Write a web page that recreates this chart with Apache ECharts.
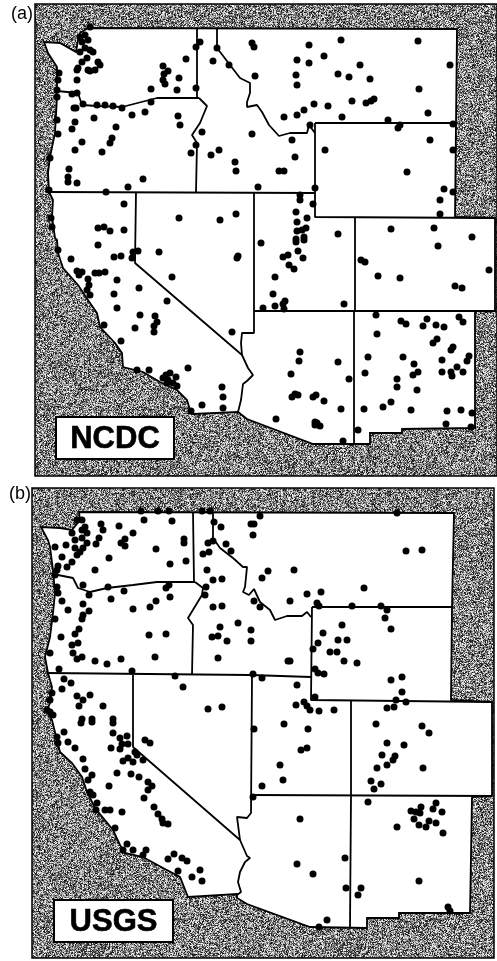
<!DOCTYPE html>
<html>
<head>
<meta charset="utf-8">
<title>Station maps</title>
<script src="https://cdn.jsdelivr.net/npm/echarts@6/dist/echarts.min.js"></script>
<style>
html, body { margin: 0; background: #fff; }
#chart { width: 497px; height: 961px; }
</style>
</head>
<body>
<div id="chart"></div>
<script>
var panelNames = ["(a)", "(b)"];
var networkNames = ["NCDC", "USGS"];

var stationsA = [
  [90,27],[80,37],[85,35],[82,42],[88,40],[85,48],[90,50],[80,52],[87,58],[93,52],[82,62],[78,68],[88,70],[98,62],[100,65],[95,70],[90,71],[77,70],
  [59,73],[58,80],[57,90],[57,97],[72,94],[77,93],[77,80],[83,104],[97,105],[105,105],[113,106],[122,108],[151,89],[151,102],
  [74,108],[76,108],[94,118],[132,115],[145,112],[178,116],[180,125],[75,122],[72,129],[116,127],[58,134],[57,120],
  [112,138],[110,143],[82,142],[75,150],[102,152],[50,158],[69,169],[68,177],[68,182],[77,183],[128,187],[143,179],
  [49,190],[106,192],[124,204],[179,218],[220,220],[236,214],[98,228],[104,227],[110,231],[124,230],[52,227],[51,218],
  [163,66],[168,71],[164,74],[163,80],[165,84],[179,78],[177,90],[186,59],[200,42],[196,47],[196,88],[202,132],[196,145],[191,153],
  [211,155],[219,150],[235,162],[236,171],[213,61],[217,48],[229,65],
  [252,43],[254,47],[309,45],[341,40],[418,41],[450,65],[297,60],[309,63],[324,56],[360,65],[338,74],[349,77],[370,79],[296,75],[297,85],[255,76],
  [419,89],[428,113],[284,117],[297,115],[304,110],[314,104],[328,106],[352,101],[366,103],[371,101],[374,99],[342,117],[310,125],[388,120],[400,125],[398,128],[453,124],
  [252,134],[292,140],[325,150],[430,140],[453,150],[295,157],[407,172],[279,171],[284,171],[258,187],[315,188],[444,189],[453,192],[440,200],[440,214],
  [300,195],[300,200],[313,204],[296,212],[307,218],[297,222],[297,231],[302,230],[306,228],[304,237],[296,239],[338,234],[391,229],[434,228],[472,237],
  [58,250],[71,259],[98,245],[114,257],[121,256],[133,252],[138,251],[132,258],[159,252],[238,256],[237,258],
  [77,271],[82,272],[79,275],[95,273],[99,273],[105,272],[88,279],[89,285],[87,290],[90,295],[117,280],[172,277],[139,288],[114,294],[167,301],[117,308],
  [140,315],[155,316],[157,322],[154,326],[154,332],[135,328],[104,325],[232,332],[121,341],[188,368],[137,370],[149,370],
  [166,375],[170,373],[163,378],[168,380],[176,377],[173,383],[177,386],[167,383],[222,387],[223,397],[223,408],[202,405],[191,411],
  [261,243],[296,242],[304,240],[298,251],[288,255],[283,257],[303,258],[289,265],[294,269],[275,277],[273,294],[285,301],[283,304],[275,306],[263,308],[284,309],[344,304],
  [361,260],[365,262],[378,276],[400,278],[438,246],[489,270],[455,286],[462,288],
  [376,315],[377,334],[401,321],[406,324],[423,326],[427,319],[436,325],[444,327],[459,317],[463,322],[437,339],[433,343],[453,347],[451,350],
  [368,357],[403,357],[442,360],[469,356],[467,361],[338,362],[300,352],[299,361],[291,374],[349,379],[365,373],[414,364],[457,367],[442,372],[451,372],[452,376],[463,372],[418,372],[413,375],
  [397,379],[397,387],[417,390],[295,394],[292,397],[298,395],[313,397],[316,395],[324,401],[341,409],[364,409],[383,407],[391,402],[411,410],[447,411],[461,410],[472,413],
  [276,419],[315,422],[317,423],[320,426],[315,425],[446,424],[471,427],[358,430],[343,441]
];

var stationsB = [
  [141,511],[158,511],[169,511],[202,511],[210,511],[144,520],[172,521],[214,522],[221,527],[101,524],[103,530],[119,526],[133,533],[99,538],[96,544],[125,539],[121,543],[125,546],
  [156,549],[184,539],[184,543],[109,558],[186,561],[170,564],[95,570],
  [77,520],[82,520],[85,527],[87,533],[72,533],[75,540],[82,538],[87,543],[75,548],[80,552],[83,548],[77,555],[82,530],
  [55,547],[66,545],[62,557],[72,562],[67,567],[58,566],[57,570],[55,575],[208,543],[213,541],[209,552],[203,554],[226,544],[231,551],[207,570],[213,580],[222,579],
  [83,585],[108,587],[89,595],[124,591],[111,599],[166,588],[169,585],[170,597],[156,601],[150,607],[133,609],[206,587],[205,595],[213,607],[222,606],
  [57,587],[58,593],[62,601],[68,610],[83,604],[89,611],[83,615],[82,619],[55,619],[79,629],[75,634],[61,637],[78,643],[72,645],[73,653],[50,653],[82,657],[77,659],
  [95,661],[107,664],[121,659],[155,657],[149,635],[166,634],[220,627],[238,623],[212,637],[218,636],[227,641],[218,658],[59,669],[132,671],[175,676],[183,687],
  [64,679],[71,683],[62,689],[77,696],[90,695],[83,700],[79,706],[103,706],[208,709],[222,707],[50,712],[53,715],[47,710],[52,693],[50,700],[82,719],[92,719],[113,719],
  [260,516],[251,524],[254,524],[253,535],[397,513],[406,551],[422,550],[268,571],[262,578],[294,570],[364,588],[321,592],[307,594],[290,601],[254,601],[260,607],[317,603],[319,606],
  [352,606],[381,606],[387,610],[385,618],[391,629],[342,625],[323,633],[318,643],[338,640],[347,640],[313,649],[330,652],[337,652],[344,661],[357,663],[288,661],[290,661],
  [251,630],[251,641],[253,674],[262,678],[315,669],[318,673],[324,674],[402,677],[391,680],[402,692],[297,685],[315,697],[396,700],[406,702],[387,708],[394,707],
  [296,705],[304,702],[307,706],[310,710],[319,711],[334,710],
  [81,723],[92,722],[113,723],[64,732],[113,733],[127,736],[120,738],[122,744],[128,744],[145,740],[150,743],[57,737],[58,743],[68,742],[75,748],[111,748],[120,749],[135,752],[137,755],
  [83,759],[123,761],[128,758],[133,762],[143,760],[85,769],[92,775],[88,780],[117,773],[131,774],[139,777],[148,782],[152,786],[148,790],[109,786],[90,792],[93,795],[144,798],
  [97,803],[154,807],[96,810],[105,810],[110,810],[122,812],[158,814],[162,819],[163,823],[168,824],[115,828],[127,844],[123,850],[133,850],[146,850],[143,855],
  [174,854],[168,859],[182,858],[187,861],[178,871],[200,870],[192,877],[202,881],
  [284,724],[254,729],[308,729],[376,724],[422,726],[429,733],[387,743],[404,745],[307,748],[301,750],[382,755],[395,756],[393,760],[280,765],[387,765],[377,768],[423,768],
  [283,780],[371,781],[381,784],[374,789],[262,786],[253,797],[368,802],
  [436,803],[433,809],[442,812],[421,807],[411,811],[416,812],[420,813],[414,819],[419,825],[429,821],[426,827],[436,823],[443,833],[397,827],
  [300,819],[345,858],[297,864],[313,874],[346,888],[361,888],[358,895],[419,881],[448,907],[450,911],[327,920],[319,927]
];

var landA = [
  [88,28],[457,29],[456,123],[455,217],[495,218],[495,311],[475,311],[475,428],[402,429],[402,433],[370,433],[370,444],[313,444],[247,419],[238,412],[193,414],
  [190,410],[187,400],[177,390],[160,382],[143,372],[123,367],[122,353],[115,343],[100,327],[97,313],[88,300],[78,285],[63,268],[58,253],[57,240],[55,238],
  [52,217],[53,200],[49,192],[48,173],[50,157],[55,133],[57,97],[57,67],[48,53],[44,42],[60,43],[76,52],[78,40],[80,33]
];
var bordersA = [
  [[57,91],[78,93],[82,105],[97,106],[122,107],[157,98],[199,98]],
  [[197,28],[197,98]],
  [[199,98],[207,106],[200,123],[192,135],[197,143],[196,192]],
  [[50,192],[315,193]],
  [[136,192],[135,263],[242,355],[248,368],[253,375],[247,381],[243,384],[241,400],[238,412]],
  [[242,355],[241,343],[242,333],[254,333],[254,193]],
  [[254,311],[495,311]],
  [[355,217],[355,311]],
  [[354,311],[354,444]],
  [[315,123],[456,123]],
  [[315,123],[315,217],[495,218]],
  [[217,28],[217,48],[230,65],[240,78],[250,83],[250,93],[247,102],[247,107],[257,105],[262,112],[269,125],[279,136],[290,133],[307,133],[309,125],[315,133]]
];

var landB = [
  [79,512],[454,513],[452,607],[451,700],[492,702],[492,796],[472,797],[470,913],[399,913],[399,918],[367,918],[367,928],[310,927],[247,904],[237,898],[237,894],[188,897],
  [180,877],[163,868],[143,857],[125,853],[120,845],[113,830],[95,808],[87,792],[82,777],[72,763],[60,752],[57,740],[52,720],[47,710],[50,703],[52,687],[48,673],
  [45,657],[50,637],[53,613],[55,593],[53,570],[50,547],[48,540],[41,527],[60,528],[72,530],[80,520]
];
var bordersB = [
  [[58,575],[73,578],[78,588],[90,592],[107,588],[133,585],[157,582],[195,582]],
  [[193,512],[194,582]],
  [[195,582],[203,588],[202,595],[188,618],[193,625],[192,675]],
  [[47,673],[250,675],[311,677]],
  [[133,675],[133,747],[240,840],[247,856],[250,858],[245,862],[240,872],[238,882],[241,892],[237,895]],
  [[240,840],[237,817],[247,818],[251,813],[252,677]],
  [[252,795],[492,796]],
  [[351,700],[351,796]],
  [[351,796],[350,927]],
  [[312,607],[452,607]],
  [[312,607],[311,700],[492,702]],
  [[213,512],[213,538],[220,548],[233,558],[243,567],[247,567],[245,587],[243,592],[249,595],[254,589],[260,602],[270,610],[275,620],[287,616],[302,616],[307,612],[311,617]]
];

// speckled grey of the printed page
function speckle() {
  var size = 256, c = document.createElement("canvas");
  c.width = c.height = size;
  var ctx = c.getContext("2d");
  var img = ctx.createImageData(size, size);
  var seed = 4711, n = [], i;
  for (i = 0; i < size * size; i++) {
    seed = (Math.imul(seed, 1664525) + 1013904223) | 0;
    n.push((seed >>> 24));
  }
  for (i = 0; i < size * size; i++) {
    var v = 132 + (n[i] - 128) * 0.95;
    img.data[i * 4] = img.data[i * 4 + 1] = img.data[i * 4 + 2] = v;
    img.data[i * 4 + 3] = 255;
  }
  ctx.putImageData(img, 0, 0);
  return { image: c, repeat: "repeat" };
}

function landSeries(land, idx) {
  return {
    type: "custom",
    xAxisIndex: idx,
    yAxisIndex: idx,
    silent: true,
    clip: false,
    z: 1,
    data: [land[0]],
    renderItem: function(params, api) {
      return {
        type: "polygon",
        shape: { points: land.map(function(p) { return api.coord(p); }) },
        style: { fill: "#fff", stroke: "#000", lineWidth: 1.8 }
      };
    }
  };
}

function borderSeries(borders, idx) {
  return borders.map(function(b) {
    return {
      type: "line",
      xAxisIndex: idx,
      yAxisIndex: idx,
      silent: true,
      clip: false,
      showSymbol: false,
      z: 2,
      lineStyle: { color: "#000", width: 1.8 },
      data: b
    };
  });
}

function stationSeries(stations, idx) {
  return {
    type: "scatter",
    xAxisIndex: idx,
    yAxisIndex: idx,
    silent: true,
    clip: false,
    symbolSize: 7,
    z: 3,
    itemStyle: { color: "#000", opacity: 1 },
    data: stations
  };
}

function axisX(min, max, idx) {
  return { type: "value", gridIndex: idx, min: min, max: max, show: false };
}
function axisY(min, max, idx) {
  return { type: "value", gridIndex: idx, min: min, max: max, inverse: true, show: false };
}

function tagBox(x, y, w, h, name) {
  return {
    type: "group",
    z: 10,
    children: [
      { type: "rect", shape: { x: x, y: y, width: w, height: h }, style: { fill: "#fff", stroke: "#000", lineWidth: 2 } },
      {
        type: "text",
        x: x + w / 2,
        y: y + h / 2 + 1,
        style: {
          text: name,
          fill: "#000",
          stroke: "#000",
          lineWidth: 0.6,
          font: "bold 31px 'Liberation Sans', Arial, sans-serif",
          align: "center",
          verticalAlign: "middle"
        }
      }
    ]
  };
}

var pattern = speckle();
var chart = echarts.init(document.getElementById("chart"));
chart.setOption({
  animation: false,
  backgroundColor: "#fff",
  title: [
    { text: panelNames[0], left: 6, top: 0, textStyle: { fontFamily: "Liberation Sans", fontSize: 18, fontWeight: "normal", color: "#000" } },
    { text: panelNames[1], left: 4, top: 480, textStyle: { fontFamily: "Liberation Sans", fontSize: 18, fontWeight: "normal", color: "#000" } }
  ],
  grid: [
    { left: 35, top: 4, width: 462, height: 472, show: true, backgroundColor: pattern, borderColor: "#000", borderWidth: 1.5 },
    { left: 32, top: 488, width: 462, height: 470, show: true, backgroundColor: pattern, borderColor: "#000", borderWidth: 1.5 }
  ],
  xAxis: [axisX(35, 497, 0), axisX(32, 494, 1)],
  yAxis: [axisY(4, 476, 0), axisY(488, 958, 1)],
  series: [landSeries(landA, 0), landSeries(landB, 1)]
    .concat(borderSeries(bordersA, 0), borderSeries(bordersB, 1))
    .concat([stationSeries(stationsA, 0), stationSeries(stationsB, 1)]),
  graphic: [tagBox(56, 417, 118, 42, networkNames[0]), tagBox(54, 900, 119, 42, networkNames[1])]
});
</script>
</body>
</html>
